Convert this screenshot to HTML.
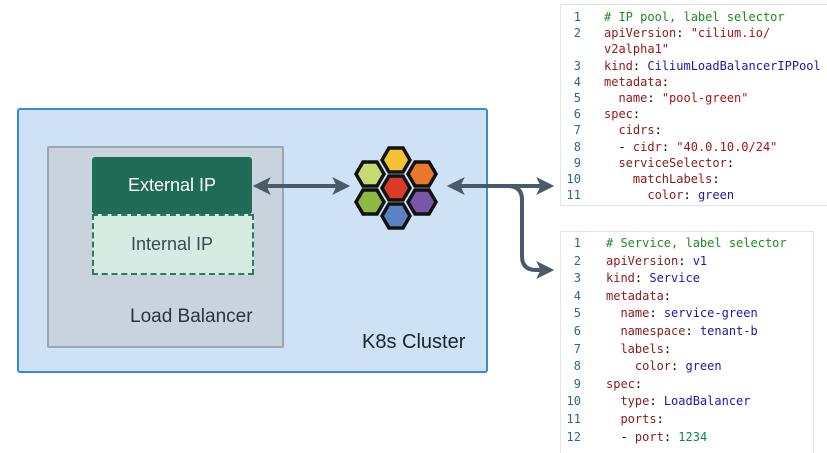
<!DOCTYPE html>
<html><head><style>
body{margin:0;width:827px;height:452px;background:#fff;position:relative;overflow:hidden;font-family:"Liberation Sans",sans-serif}
.abs{position:absolute}
.code{position:absolute;background:#fff;font-family:"DejaVu Sans Mono","Liberation Mono",monospace;font-size:12px;white-space:pre}
.ln{position:absolute;color:#2a6a8a;width:22px;text-align:right}
.tx{position:absolute}
.c{color:#1d8a1d}.k{color:#8b1a1a}.s{color:#a31515}.v{color:#1a1aa6}.n{color:#098658}
</style></head><body>
<div class="abs" style="left:17px;top:108px;width:467px;height:261px;background:#cfe2f5;border:2px solid #3a8ad8;border-radius:3px"></div>
<div class="abs" style="left:47px;top:146px;width:233px;height:198px;background:#c9d3de;border:2px solid #9aa6b2;border-radius:2px"></div>
<div class="abs" style="left:92px;top:214px;width:158px;height:57px;background:#d6ebe2;border:2px dashed #2a7a5e"></div>
<div class="abs" style="left:92px;top:157px;width:160px;height:57px;background:#1f6b55;border-radius:3px;color:#fff;font-size:18px;line-height:57px;text-align:center">External IP</div>
<div class="abs" style="left:92px;top:216px;width:160px;height:57px;color:#3a4a55;font-size:18px;line-height:57px;text-align:center">Internal IP</div>
<div class="abs" style="left:130px;top:306px;color:#2a3440;font-size:19px">Load Balancer</div>
<div class="abs" style="left:362px;top:331px;color:#1a2430;font-size:20px">K8s Cluster</div>
<svg class="abs" style="left:0;top:0" width="827" height="452">
<defs><marker id="a" markerWidth="4.5" markerHeight="4.5" refX="2.2" refY="2.25" orient="auto-start-reverse" markerUnits="strokeWidth"><path d="M0,0 L4.5,2.25 L0,4.5 L1.1,2.25z" fill="#4a5a68"/></marker></defs>
<g stroke="#4a5a68" stroke-width="4" fill="none">
<line x1="262" y1="186" x2="341" y2="186" marker-start="url(#a)" marker-end="url(#a)"/>
<line x1="456" y1="186" x2="545" y2="186" marker-start="url(#a)" marker-end="url(#a)"/>
<path d="M508,186 Q522,186 522,200 L522,256 Q522,270 536,270 L545,270" marker-end="url(#a)"/>
</g>
<g stroke="#111" stroke-width="3.5">
<g transform="translate(396,160)"><polygon points="-14,0 -7,-12 7,-12 14,0 7,12 -7,12" fill="#f2c232"/></g>
<g transform="translate(370,174)"><polygon points="-14,0 -7,-12 7,-12 14,0 7,12 -7,12" fill="#c6dc72"/></g>
<g transform="translate(422,174)"><polygon points="-14,0 -7,-12 7,-12 14,0 7,12 -7,12" fill="#e9792a"/></g>
<g transform="translate(396,188)"><polygon points="-14,0 -7,-12 7,-12 14,0 7,12 -7,12" fill="#d93a2a"/></g>
<g transform="translate(370,202)"><polygon points="-14,0 -7,-12 7,-12 14,0 7,12 -7,12" fill="#8bb942"/></g>
<g transform="translate(422,202)"><polygon points="-14,0 -7,-12 7,-12 14,0 7,12 -7,12" fill="#7a56a8"/></g>
<g transform="translate(396,216)"><polygon points="-14,0 -7,-12 7,-12 14,0 7,12 -7,12" fill="#5b82c2"/></g>
</g>
</svg>
<div class="code" style="left:560px;top:4px;width:267px;height:200px;border:1px solid #e4e4e4">
<div class="ln" style="left:-2px;top:4px;line-height:16.2px">1
2

3
4
5
6
7
8
9
10
11</div>
<div class="tx" style="left:43px;top:4px;line-height:16.2px"><span class="c"># IP pool, label selector</span>
<span class="k">apiVersion</span>: <span class="s">"cilium.io/</span>
<span class="s">v2alpha1"</span>
<span class="k">kind</span>: <span class="v">CiliumLoadBalancerIPPool</span>
<span class="k">metadata</span>:
  <span class="k">name</span>: <span class="s">"pool-green"</span>
<span class="k">spec</span>:
  <span class="k">cidrs</span>:
  - <span class="k">cidr</span>: <span class="s">"40.0.10.0/24"</span>
  <span class="k">serviceSelector</span>:
    <span class="k">matchLabels</span>:
      <span class="k">color</span>: <span class="v">green</span></div>
</div>
<div class="code" style="left:560px;top:231px;width:252px;height:221px;border:1px solid #e4e4e4;border-bottom:none">
<div class="ln" style="left:-2px;top:3px;line-height:17.6px">1
2
3
4
5
6
7
8
9
10
11
12</div>
<div class="tx" style="left:45px;top:3px;line-height:17.6px"><span class="c"># Service, label selector</span>
<span class="k">apiVersion</span>: <span class="v">v1</span>
<span class="k">kind</span>: <span class="v">Service</span>
<span class="k">metadata</span>:
  <span class="k">name</span>: <span class="v">service-green</span>
  <span class="k">namespace</span>: <span class="v">tenant-b</span>
  <span class="k">labels</span>:
    <span class="k">color</span>: <span class="v">green</span>
<span class="k">spec</span>:
  <span class="k">type</span>: <span class="v">LoadBalancer</span>
  <span class="k">ports</span>:
  - <span class="k">port</span>: <span class="n">1234</span></div>
</div>
</body></html>
